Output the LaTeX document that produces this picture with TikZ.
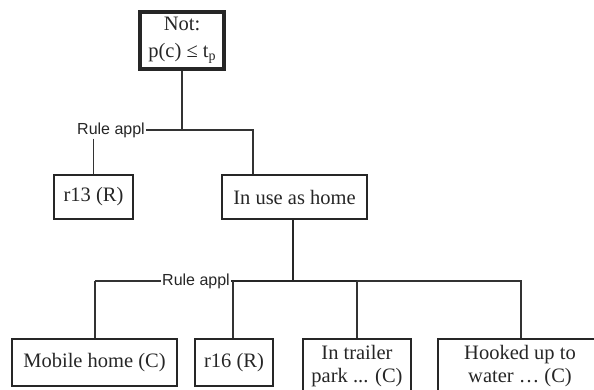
\documentclass[tikz,border=0pt]{standalone}
\usepackage{fontspec}
\setmainfont{Liberation Serif}
\newfontfamily\labelfont{Liberation Sans}
\begin{document}
\begin{tikzpicture}[x=1pt,y=-1pt,
  every node/.style={text=black!85},
  box/.style={draw=black!85,line width=1.2pt,inner sep=0pt,align=center,
    font=\fontsize{20.5}{23}\selectfont},
  rootbox/.style={box,line width=3.6pt,font=\fontsize{20.5}{27}\selectfont},
  rulelabel/.style={inner sep=1pt,font=\labelfont\fontsize{16}{16}\selectfont},
  wire/.style={draw=black!80,line width=1.1pt},
  trunk/.style={draw=black!85,line width=2.6pt},
  mainbar/.style={draw=black!85,line width=1.8pt}]
  \useasboundingbox (0,0) rectangle (594,389);
  \clip (0,0) rectangle (594,389);

  % boxes
  \node[rootbox,minimum width=84.5pt,minimum height=57.5pt] (root) at (182,40.5)
    {Not:\\p(c) ≤ t\raisebox{-0.35ex}{\fontsize{14}{14}\selectfont p}};
  \node[box,minimum width=79pt,minimum height=44pt] (r13) at (93.5,197) {r13 (R)};
  \node[box,minimum width=145pt,minimum height=44pt] (home) at (294.5,197) {In use as home};
  \node[box,minimum width=165pt,minimum height=47pt] (mobile) at (94.5,362.5) {Mobile home (C)};
  \node[box,minimum width=78pt,minimum height=47pt] (r16) at (234,362.5) {r16 (R)};
  \node[box,minimum width=108pt,minimum height=54pt] (trailer) at (357,366) {In trailer\\park ... (C)};
  \node[box,minimum width=164pt,minimum height=54pt] (water) at (520,366) {Hooked up to\\water … (C)};

  % rule labels
  \node[rulelabel] (rule1) at (111,130) {Rule appl};
  \node[rulelabel] (rule2) at (196,281) {Rule appl};

  % junction points
  \coordinate (j1) at (182,130);
  \coordinate (j1r) at (253,130);
  \coordinate (j2) at (293,281);
  \coordinate (j2l) at (95,281);
  \coordinate (j2a) at (233,281);
  \coordinate (j2b) at (357,281);
  \coordinate (j2r) at (521,281);

  % upper rule
  \draw[wire] (root.south) -- (j1);
  \draw[wire] (rule1.east) -- (j1r) -- (j1r |- home.north);
  \draw[wire] (rule1.south -| r13.north) -- (r13.north);

  % lower rule
  \draw[wire] (j2l) -- (rule2.west);
  \draw[wire] (j2l) -- (j2l |- mobile.north);
  \draw[mainbar] (rule2.east) -- (j2b);
  \draw[wire] (j2b) -- (j2r) -- (j2r |- water.north);
  \draw[wire] (j2a) -- (j2a |- r16.north);
  \draw[wire] (j2b) -- (trailer.north);
  \draw[trunk] (home.south -| j2) -- (j2);
\end{tikzpicture}
\end{document}
